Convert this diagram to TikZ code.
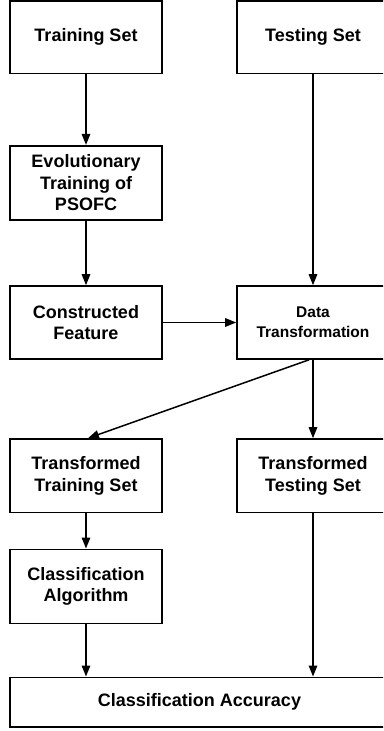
\documentclass[tikz,border=0pt]{standalone}
\usepackage{fontspec}
\setmainfont{Liberation Sans}
\usetikzlibrary{arrows.meta}
\begin{document}
\begin{tikzpicture}[x=1pt,y=-1pt,
  box/.style={draw, line width=1.6pt, rectangle, align=center,
    minimum width=152pt, inner sep=0pt,
    font=\fontsize{18}{21.7}\selectfont\bfseries},
  smallbox/.style={box, font=\fontsize{15.5}{20}\selectfont\bfseries},
  arr/.style={line width=1.5pt, -{Triangle[length=11pt,width=8.5pt]}}]
\useasboundingbox (0,0) rectangle (383,731);
\clip (0,0) rectangle (383,731);
% left column
\node[box, minimum height=72.6pt] (train) at (86,37) {Training Set};
\node[box, minimum height=74.3pt] (evo) at (86,182.85) {Evolutionary\\Training of\\PSOFC};
\node[box, minimum height=73pt] (feat) at (86,322.5) {Constructed\\Feature};
\node[box, minimum height=73.3pt] (ttrain) at (86,475.65) {Transformed\\Training Set};
\node[box, minimum height=74pt] (algo) at (86,586.3) {Classification\\Algorithm};
% right column
\node[box, minimum height=72.6pt] (test) at (313,37) {Testing Set};
\node[smallbox, minimum height=73pt] (trans) at (313,322.5) {Data\\Transformation};
\node[box, minimum height=73.3pt] (ttest) at (313,475.65) {Transformed\\Testing Set};
% result
\node[box, minimum width=379pt, minimum height=49.4pt] (acc) at (199.5,702) {Classification Accuracy};
% connectors
\draw[arr] (train) -- (evo);
\draw[arr] (evo) -- (feat);
\draw[arr] (feat) -- (trans);
\draw[arr] (test) -- (trans);
\draw[arr] ([xshift=-4pt]trans.south) -- ([xshift=2pt]ttrain.north);
\draw[arr] (trans) -- (ttest);
\draw[arr] (ttrain) -- (algo);
\draw[arr] (algo.south) -- (algo.south |- acc.north);
\draw[arr] (ttest.south) -- (ttest.south |- acc.north);
\end{tikzpicture}
\end{document}
